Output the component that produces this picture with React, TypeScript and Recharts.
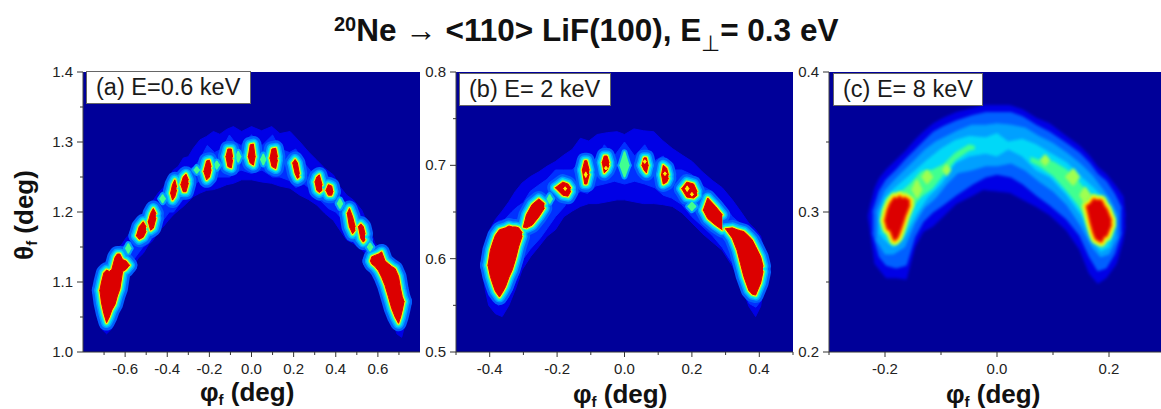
import { ComposedChart, Area, XAxis, YAxis, CartesianGrid } from 'recharts'

type Row = [number, number | null, number | null]

const FONT = "'Liberation Sans', Arial, sans-serif"

// colour scale of the intensity map, low to high
const PLOT_BG = '#000099'
const C_BLUE = '#0000e6'
const C_DEEP = '#0030ff'
const C_AZURE = '#0060ff'
const C_SKY = '#00a0ff'
const C_CYAN = '#00d8f8'
const C_GREEN = '#40ff90'
const C_LIME = '#a0ff50'
const C_YELLOW = '#ffee00'
const C_ORANGE = '#ff7a00'
const C_RED = '#dc0000'

// ---- panel (a) : [phi, theta low, theta high]
const aOuter: Row[] = [
  [-0.743, 1.074, 1.093], [-0.728, 1.045, 1.112], [-0.712, 1.033, 1.119], [-0.688, 1.026, 1.131], [-0.664, 1.033, 1.141],
  [-0.641, 1.05, 1.148], [-0.617, 1.083, 1.153], [-0.593, 1.105, 1.164], [-0.561, 1.122, 1.174], [-0.538, 1.134, 1.186],
  [-0.514, 1.141, 1.198], [-0.49, 1.153, 1.21], [-0.466, 1.16, 1.217], [-0.443, 1.174, 1.227], [-0.419, 1.179, 1.235],
  [-0.395, 1.188, 1.246], [-0.371, 1.196, 1.26], [-0.348, 1.202, 1.265], [-0.324, 1.208, 1.277], [-0.3, 1.215, 1.279],
  [-0.276, 1.222, 1.291], [-0.245, 1.227, 1.303], [-0.213, 1.231, 1.308], [-0.181, 1.232, 1.315], [-0.15, 1.235, 1.311],
  [-0.118, 1.239, 1.318], [-0.086, 1.241, 1.322], [-0.047, 1.246, 1.315], [0, 1.246, 1.322], [0.048, 1.243, 1.316],
  [0.096, 1.241, 1.322], [0.135, 1.237, 1.312], [0.183, 1.234, 1.315], [0.23, 1.224, 1.3], [0.27, 1.218, 1.286],
  [0.31, 1.21, 1.274], [0.349, 1.198, 1.262], [0.389, 1.188, 1.253], [0.42, 1.174, 1.236], [0.452, 1.16, 1.224],
  [0.484, 1.155, 1.217], [0.523, 1.146, 1.203], [0.555, 1.136, 1.181], [0.587, 1.117, 1.155], [0.61, 1.098, 1.148],
  [0.642, 1.079, 1.138], [0.666, 1.05, 1.129], [0.69, 1.026, 1.124], [0.713, 1.021, 1.105], [0.734, 1.045, 1.093],
  [0.747, 1.06, 1.081],
]
const aInner: Row[] = [
  [-0.733, 1.07, 1.085], [-0.72, 1.05, 1.108], [-0.7, 1.035, 1.12], [-0.68, 1.032, 1.125], [-0.66, 1.042, 1.135],
  [-0.64, 1.06, 1.143], [-0.615, 1.09, 1.15], [-0.59, 1.115, 1.155], [-0.565, 1.13, 1.16], [-0.54, 1.14, 1.18],
  [-0.515, 1.15, 1.19], [-0.49, 1.155, 1.2], [-0.465, 1.165, 1.21], [-0.44, 1.18, 1.205], [-0.415, 1.19, 1.215],
  [-0.39, 1.2, 1.235], [-0.37, 1.2, 1.25], [-0.345, 1.21, 1.25], [-0.32, 1.22, 1.265], [-0.3, 1.225, 1.26],
  [-0.27, 1.24, 1.265], [-0.245, 1.245, 1.275], [-0.21, 1.24, 1.295], [-0.175, 1.25, 1.285], [-0.14, 1.25, 1.29],
  [-0.105, 1.25, 1.31], [-0.08, 1.255, 1.3], [-0.05, 1.26, 1.295], [0, 1.255, 1.31], [0.05, 1.26, 1.295],
  [0.1, 1.25, 1.31], [0.135, 1.25, 1.29], [0.18, 1.245, 1.285], [0.21, 1.235, 1.29], [0.25, 1.24, 1.27],
  [0.29, 1.23, 1.255], [0.315, 1.22, 1.26], [0.365, 1.205, 1.25], [0.4, 1.2, 1.225], [0.43, 1.19, 1.21],
  [0.47, 1.16, 1.205], [0.52, 1.15, 1.19], [0.56, 1.14, 1.16], [0.59, 1.125, 1.145], [0.62, 1.1, 1.145],
  [0.65, 1.08, 1.13], [0.68, 1.035, 1.12], [0.7, 1.03, 1.11], [0.72, 1.04, 1.09], [0.735, 1.055, 1.08],
]
const aMinor: Row[] = [
  [-0.595, 1.148, 1.148], [-0.585, 1.142, 1.154], [-0.575, 1.148, 1.148], [-0.57, null, null],
  [-0.432, 1.219, 1.219], [-0.422, 1.214, 1.224], [-0.412, 1.219, 1.219], [-0.4, null, null],
  [-0.27, 1.26, 1.26], [-0.26, 1.256, 1.264], [-0.25, 1.26, 1.26], [-0.24, null, null],
  [-0.175, 1.267, 1.267], [-0.165, 1.262, 1.272], [-0.155, 1.267, 1.267], [-0.14, null, null],
  [-0.073, 1.279, 1.279], [-0.063, 1.272, 1.286], [-0.053, 1.279, 1.279], [-0.04, null, null],
  [0.046, 1.275, 1.275], [0.056, 1.268, 1.282], [0.066, 1.275, 1.275], [0.08, null, null],
  [0.41, 1.212, 1.212], [0.42, 1.206, 1.218], [0.43, 1.212, 1.212], [0.44, null, null],
  [0.553, 1.15, 1.15], [0.563, 1.145, 1.155], [0.573, 1.15, 1.15],
]
const aPeaks: Row[] = [
  [-0.72, 1.088, 1.088], [-0.712, 1.07, 1.1], [-0.701, 1.055, 1.113], [-0.688, 1.042, 1.117], [-0.675, 1.05, 1.115],
  [-0.663, 1.06, 1.118], [-0.648, 1.068, 1.135], [-0.637, 1.08, 1.14], [-0.625, 1.09, 1.14], [-0.612, 1.115, 1.132],
  [-0.596, 1.118, 1.13], [-0.58, 1.124, 1.124], [-0.56, null, null],
  [-0.546, 1.166, 1.166], [-0.533, 1.161, 1.179], [-0.514, 1.164, 1.186], [-0.501, 1.172, 1.179], [-0.495, null, null],
  [-0.49, 1.186, 1.186], [-0.479, 1.174, 1.198], [-0.466, 1.177, 1.205], [-0.454, 1.191, 1.198], [-0.44, null, null],
  [-0.384, 1.227, 1.227], [-0.375, 1.217, 1.239], [-0.364, 1.222, 1.246], [-0.356, 1.231, 1.236], [-0.345, null, null],
  [-0.335, 1.239, 1.239], [-0.324, 1.229, 1.25], [-0.311, 1.229, 1.254], [-0.3, 1.241, 1.246], [-0.28, null, null],
  [-0.226, 1.258, 1.258], [-0.213, 1.246, 1.273], [-0.2, 1.25, 1.274], [-0.192, 1.26, 1.265], [-0.15, null, null],
  [-0.121, 1.279, 1.279], [-0.112, 1.265, 1.29], [-0.096, 1.263, 1.29], [-0.09, 1.274, 1.279], [-0.05, null, null],
  [-0.015, 1.279, 1.279], [-0.006, 1.27, 1.296], [0.009, 1.267, 1.297], [0.017, 1.279, 1.279], [0.05, null, null],
  [0.088, 1.277, 1.277], [0.097, 1.265, 1.29], [0.115, 1.262, 1.291], [0.123, 1.274, 1.279], [0.16, null, null],
  [0.196, 1.27, 1.27], [0.207, 1.255, 1.275], [0.218, 1.248, 1.27], [0.227, 1.25, 1.255], [0.27, null, null],
  [0.302, 1.243, 1.243], [0.31, 1.231, 1.25], [0.322, 1.228, 1.253], [0.335, 1.231, 1.239], [0.345, null, null],
  [0.354, 1.231, 1.231], [0.365, 1.224, 1.239], [0.381, 1.224, 1.237], [0.386, 1.229, 1.229], [0.42, null, null],
  [0.455, 1.198, 1.198], [0.465, 1.179, 1.205], [0.48, 1.169, 1.193], [0.492, 1.174, 1.179], [0.5, null, null],
  [0.508, 1.179, 1.179], [0.519, 1.162, 1.183], [0.531, 1.157, 1.179], [0.539, 1.16, 1.169], [0.555, null, null],
  [0.565, 1.13, 1.13], [0.571, 1.126, 1.136], [0.587, 1.122, 1.138], [0.603, 1.116, 1.14], [0.618, 1.107, 1.143],
  [0.634, 1.095, 1.13], [0.65, 1.079, 1.126], [0.666, 1.062, 1.122], [0.682, 1.05, 1.119], [0.698, 1.041, 1.108],
  [0.708, 1.05, 1.09], [0.716, 1.06, 1.079], [0.724, 1.072, 1.072],
]

// ---- panel (b)
const bOuter: Row[] = [
  [-0.423, 0.589, 0.602], [-0.413, 0.566, 0.615], [-0.403, 0.55, 0.629], [-0.383, 0.541, 0.642], [-0.363, 0.538, 0.651],
  [-0.343, 0.55, 0.661], [-0.324, 0.567, 0.672], [-0.304, 0.588, 0.681], [-0.279, 0.602, 0.688], [-0.254, 0.613, 0.693],
  [-0.23, 0.624, 0.699], [-0.205, 0.631, 0.704], [-0.18, 0.645, 0.711], [-0.155, 0.651, 0.717], [-0.131, 0.656, 0.729],
  [-0.106, 0.659, 0.726], [-0.081, 0.659, 0.733], [-0.051, 0.661, 0.735], [-0.022, 0.663, 0.736], [0, 0.663, 0.733],
  [0.028, 0.661, 0.739], [0.057, 0.659, 0.737], [0.087, 0.659, 0.736], [0.112, 0.658, 0.727], [0.142, 0.656, 0.718],
  [0.171, 0.649, 0.711], [0.201, 0.638, 0.704], [0.231, 0.627, 0.693], [0.26, 0.618, 0.684], [0.29, 0.609, 0.676],
  [0.32, 0.592, 0.663], [0.344, 0.574, 0.651], [0.369, 0.549, 0.638], [0.389, 0.538, 0.631], [0.404, 0.549, 0.624],
  [0.416, 0.577, 0.606], [0.424, 0.592, 0.599],
]
const bInner: Row[] = [
  [-0.408, 0.585, 0.61], [-0.395, 0.56, 0.63], [-0.375, 0.55, 0.64], [-0.355, 0.553, 0.642], [-0.335, 0.565, 0.65],
  [-0.32, 0.578, 0.655], [-0.3, 0.6, 0.66], [-0.28, 0.61, 0.672], [-0.25, 0.622, 0.68], [-0.23, 0.632, 0.685],
  [-0.205, 0.645, 0.695], [-0.18, 0.655, 0.695], [-0.155, 0.668, 0.695], [-0.13, 0.672, 0.705], [-0.11, 0.67, 0.71],
  [-0.085, 0.678, 0.705], [-0.06, 0.68, 0.722], [-0.03, 0.683, 0.71], [0, 0.68, 0.725], [0.03, 0.683, 0.71],
  [0.06, 0.68, 0.722], [0.09, 0.676, 0.705], [0.115, 0.668, 0.71], [0.14, 0.665, 0.695], [0.17, 0.658, 0.695],
  [0.2, 0.645, 0.69], [0.23, 0.635, 0.678], [0.26, 0.625, 0.672], [0.29, 0.612, 0.66], [0.32, 0.595, 0.645],
  [0.345, 0.575, 0.637], [0.37, 0.552, 0.625], [0.39, 0.548, 0.615], [0.405, 0.555, 0.605], [0.415, 0.58, 0.59],
]
const bMinor: Row[] = [
  [-0.228, 0.664, 0.664], [-0.222, 0.66, 0.668], [-0.216, 0.664, 0.664], [-0.19, null, null],
  [-0.012, 0.7, 0.7], [0, 0.688, 0.714], [0.012, 0.7, 0.7], [0.03, null, null],
  [0.19, 0.656, 0.656], [0.2, 0.652, 0.66], [0.21, 0.656, 0.656],
]
const bPeaks: Row[] = [
  [-0.405, 0.593, 0.593], [-0.398, 0.581, 0.609], [-0.39, 0.572, 0.618], [-0.383, 0.565, 0.625], [-0.371, 0.559, 0.631],
  [-0.362, 0.564, 0.632], [-0.353, 0.57, 0.633], [-0.343, 0.58, 0.635], [-0.333, 0.588, 0.634], [-0.323, 0.6, 0.634],
  [-0.314, 0.613, 0.633], [-0.304, 0.624, 0.628], [-0.302, null, null],
  [-0.3, 0.634, 0.634], [-0.291, 0.633, 0.647], [-0.274, 0.636, 0.658], [-0.254, 0.645, 0.664], [-0.238, 0.654, 0.659], [-0.21, null, null],
  [-0.205, 0.676, 0.676], [-0.183, 0.668, 0.682], [-0.168, 0.667, 0.68], [-0.16, 0.672, 0.676], [-0.14, null, null],
  [-0.125, 0.695, 0.695], [-0.118, 0.68, 0.705], [-0.112, 0.68, 0.705], [-0.105, 0.69, 0.695], [-0.09, null, null],
  [-0.066, 0.703, 0.703], [-0.06, 0.692, 0.71], [-0.052, 0.695, 0.71], [-0.046, 0.7, 0.703], [0, null, null],
  [0.052, 0.7, 0.7], [0.058, 0.695, 0.708], [0.065, 0.692, 0.708], [0.07, 0.7, 0.7], [0.09, null, null],
  [0.11, 0.69, 0.69], [0.115, 0.68, 0.7], [0.125, 0.682, 0.697], [0.13, 0.686, 0.69], [0.15, null, null],
  [0.17, 0.675, 0.675], [0.185, 0.666, 0.682], [0.205, 0.665, 0.68], [0.215, 0.668, 0.672], [0.225, null, null],
  [0.234, 0.652, 0.652], [0.247, 0.643, 0.665], [0.27, 0.636, 0.656], [0.29, 0.631, 0.647], [0.298, null, null],
  [0.3, 0.632, 0.632], [0.32, 0.622, 0.633], [0.334, 0.609, 0.631], [0.344, 0.595, 0.63], [0.354, 0.581, 0.629],
  [0.369, 0.566, 0.624], [0.379, 0.562, 0.62], [0.389, 0.561, 0.613], [0.404, 0.574, 0.602], [0.411, 0.586, 0.592],
]
// lighter specks inside the grainy peaks
const bSpecks: Row[] = [
  [-0.18, 0.675, 0.675], [-0.176, 0.673, 0.677], [-0.172, 0.675, 0.675], [-0.125, null, null],
  [-0.119, 0.69, 0.69], [-0.115, 0.687, 0.693], [-0.111, 0.69, 0.69], [-0.06, null, null],
  [-0.059, 0.697, 0.697], [-0.055, 0.695, 0.699], [-0.051, 0.697, 0.697], [0.055, null, null],
  [0.056, 0.704, 0.704], [0.06, 0.702, 0.706], [0.064, 0.704, 0.704], [0.115, null, null],
  [0.116, 0.691, 0.691], [0.12, 0.689, 0.693], [0.124, 0.691, 0.691], [0.18, null, null],
  [0.181, 0.675, 0.675], [0.186, 0.672, 0.678], [0.191, 0.675, 0.675], [0.195, null, null],
  [0.196, 0.669, 0.669], [0.2, 0.667, 0.671], [0.204, 0.669, 0.669],
]

// ---- panel (c)
const cOuter: Row[] = [
  [-0.23, 0.297, 0.297], [-0.227, 0.289, 0.303], [-0.218, 0.263, 0.317], [-0.21, 0.259, 0.324], [-0.198, 0.253, 0.33],
  [-0.18, 0.253, 0.337], [-0.162, 0.252, 0.344], [-0.147, 0.275, 0.351], [-0.132, 0.286, 0.357], [-0.114, 0.29, 0.363],
  [-0.096, 0.297, 0.367], [-0.073, 0.306, 0.371], [-0.043, 0.312, 0.374], [-0.025, 0.316, 0.376], [0, 0.315, 0.376],
  [0.023, 0.314, 0.376], [0.046, 0.309, 0.373], [0.07, 0.304, 0.367], [0.094, 0.298, 0.363], [0.124, 0.287, 0.354],
  [0.148, 0.273, 0.347], [0.165, 0.256, 0.34], [0.18, 0.249, 0.332], [0.195, 0.253, 0.327], [0.213, 0.263, 0.318],
  [0.225, 0.28, 0.311], [0.229, 0.29, 0.297],
]
const cAzure: Row[] = [
  [-0.222, 0.285, 0.3], [-0.21, 0.268, 0.315], [-0.198, 0.262, 0.323], [-0.18, 0.26, 0.33], [-0.162, 0.262, 0.338],
  [-0.147, 0.282, 0.344], [-0.132, 0.293, 0.35], [-0.114, 0.3, 0.357], [-0.096, 0.305, 0.361], [-0.073, 0.312, 0.365],
  [-0.043, 0.32, 0.369], [-0.02, 0.325, 0.371], [0, 0.327, 0.371], [0.025, 0.325, 0.371], [0.046, 0.32, 0.368],
  [0.07, 0.312, 0.362], [0.094, 0.305, 0.357], [0.124, 0.295, 0.349], [0.148, 0.283, 0.342], [0.165, 0.268, 0.335],
  [0.18, 0.258, 0.327], [0.195, 0.26, 0.322], [0.21, 0.27, 0.313], [0.222, 0.285, 0.303],
]
const cSky: Row[] = [
  [-0.215, 0.28, 0.3], [-0.2, 0.27, 0.315], [-0.185, 0.27, 0.322], [-0.165, 0.275, 0.33], [-0.147, 0.292, 0.337],
  [-0.13, 0.303, 0.344], [-0.11, 0.31, 0.35], [-0.09, 0.32, 0.354], [-0.07, 0.328, 0.358], [-0.045, 0.33, 0.362],
  [-0.02, 0.333, 0.362], [0, 0.333, 0.363], [0.025, 0.335, 0.362], [0.05, 0.33, 0.36], [0.075, 0.322, 0.354],
  [0.1, 0.315, 0.349], [0.125, 0.305, 0.342], [0.15, 0.29, 0.334], [0.17, 0.275, 0.326], [0.185, 0.268, 0.318],
  [0.2, 0.27, 0.31], [0.215, 0.282, 0.298],
]
const cCyan: Row[] = [
  [-0.21, 0.285, 0.298], [-0.2, 0.28, 0.31], [-0.185, 0.275, 0.316], [-0.165, 0.283, 0.323], [-0.145, 0.298, 0.33],
  [-0.125, 0.31, 0.337], [-0.1, 0.32, 0.345], [-0.075, 0.335, 0.351], [-0.05, 0.34, 0.354], [-0.02, 0.342, 0.353],
  [0, 0.34, 0.356], [0.02, 0.345, 0.35], [0.045, 0.34, 0.352], [0.07, 0.33, 0.348], [0.095, 0.325, 0.342],
  [0.125, 0.312, 0.335], [0.15, 0.298, 0.325], [0.17, 0.282, 0.318], [0.185, 0.272, 0.312], [0.2, 0.275, 0.303],
  [0.208, 0.285, 0.295],
]
const cGreen: Row[] = [
  [-0.205, 0.29, 0.3], [-0.195, 0.283, 0.31], [-0.175, 0.283, 0.313], [-0.155, 0.302, 0.32], [-0.135, 0.311, 0.329],
  [-0.115, 0.317, 0.33], [-0.095, 0.327, 0.334], [-0.075, 0.337, 0.342], [-0.05, 0.344, 0.348], [-0.04, 0.345, 0.347],
  [0, null, null],
  [0.06, 0.336, 0.339], [0.075, 0.333, 0.337], [0.1, 0.326, 0.336], [0.125, 0.315, 0.33], [0.145, 0.305, 0.322],
  [0.165, 0.292, 0.312], [0.185, 0.278, 0.31], [0.2, 0.28, 0.303], [0.205, 0.288, 0.295],
]
const cMinor: Row[] = [
  [-0.15, 0.316, 0.316], [-0.143, 0.311, 0.322], [-0.136, 0.316, 0.316], [-0.13, null, null],
  [-0.132, 0.325, 0.325], [-0.125, 0.321, 0.329], [-0.117, 0.325, 0.325], [-0.1, null, null],
  [-0.095, 0.33, 0.33], [-0.09, 0.327, 0.333], [-0.085, 0.33, 0.33], [0.07, null, null],
  [0.08, 0.337, 0.337], [0.086, 0.334, 0.34], [0.092, 0.337, 0.337], [0.115, null, null],
  [0.125, 0.325, 0.325], [0.136, 0.32, 0.33], [0.145, 0.325, 0.325], [0.15, null, null],
  [0.15, 0.312, 0.312], [0.157, 0.307, 0.317], [0.165, 0.312, 0.312],
]
const cPeaks: Row[] = [
  [-0.199, 0.294, 0.294], [-0.195, 0.288, 0.301], [-0.19, 0.287, 0.306], [-0.183, 0.28, 0.31], [-0.178, 0.282, 0.309],
  [-0.174, 0.286, 0.311], [-0.169, 0.292, 0.309], [-0.165, 0.297, 0.31], [-0.157, 0.305, 0.308], [0, null, null],
  [0.161, 0.304, 0.304], [0.168, 0.292, 0.306], [0.173, 0.285, 0.309], [0.177, 0.281, 0.308], [0.186, 0.279, 0.308],
  [0.191, 0.283, 0.304], [0.195, 0.283, 0.302], [0.2, 0.288, 0.297], [0.203, 0.291, 0.294],
]

// axis ticks
const aXMajor = [-0.6, -0.4, -0.2, 0, 0.2, 0.4, 0.6]
const aXMinor = [-0.7, -0.5, -0.3, -0.1, 0.1, 0.3, 0.5, 0.7]
const aYMajor = [1.0, 1.1, 1.2, 1.3, 1.4]
const aYMinor = [1.05, 1.15, 1.25, 1.35]
const bXMajor = [-0.4, -0.2, 0, 0.2, 0.4]
const bXMinor = [-0.5, -0.3, -0.1, 0.1, 0.3, 0.5]
const bYMajor = [0.5, 0.6, 0.7, 0.8]
const bYMinor = [0.55, 0.65, 0.75]
const cXMajor = [-0.2, 0, 0.2]
const cXMinor = [-0.3, -0.1, 0.1, 0.3]
const cYMajor = [0.2, 0.3, 0.4]
const cYMinor = [0.25, 0.35]

const toData = (rows: Row[]) =>
  rows.map(([phi, lo, hi]) => ({ phi, band: lo == null ? null : [lo, hi] }))

function XTick({ x, y, payload, major }: any) {
  const isMajor = major.includes(payload.value)
  return (
    <g>
      <line x1={x} x2={x} y1={y} y2={y + (isMajor ? 5 : 3)} stroke="#333" />
      {isMajor && (
        <text x={x} y={y + 22} textAnchor="middle" fontFamily={FONT} fontSize={15} fill="#222">
          {payload.value.toFixed(1)}
        </text>
      )}
    </g>
  )
}

function YTick({ x, y, payload, major }: any) {
  const isMajor = major.includes(payload.value)
  return (
    <g>
      <line x1={x} x2={x - (isMajor ? 6 : 3)} y1={y} y2={y} stroke="#333" />
      {isMajor && (
        <text x={x - 10} y={y + 5} textAnchor="end" fontFamily={FONT} fontSize={15} fill="#222">
          {payload.value.toFixed(1)}
        </text>
      )}
    </g>
  )
}

// same outline stroked wide gives the contour ring round a peak
const band = (id: string, rows: Row[], color: string, width = 1) => (
  <Area
    key={id}
    data={toData(rows)}
    dataKey="band"
    type="linear"
    stroke={color}
    strokeWidth={width}
    strokeLinejoin="round"
    strokeLinecap="round"
    fill={color}
    fillOpacity={1}
    dot={false}
    activeDot={false}
    isAnimationActive={false}
  />
)

function Panel({ left, width, yWidth, xDomain, yDomain, xMajor, xMinor, yMajor, yMinor, soft, children }: any) {
  return (
    <div className={soft ? 'soft' : 'crisp'} style={{ position: 'absolute', left, top: 0 }}>
      <ComposedChart width={width} height={409} margin={{ top: 72, right: 1, bottom: 0, left: 0 }}>
        <CartesianGrid horizontal={false} vertical={false} fill={PLOT_BG} />
        <XAxis
          dataKey="phi"
          type="number"
          domain={xDomain}
          ticks={[...xMajor, ...xMinor].sort((p, q) => p - q)}
          interval={0}
          height={57}
          tickSize={0}
          tickMargin={0}
          tickLine={false}
          axisLine={{ stroke: '#333' }}
          tick={<XTick major={xMajor} />}
          allowDataOverflow
        />
        <XAxis xAxisId="top" orientation="top" type="number" domain={xDomain} height={0} tick={false} tickLine={false} axisLine={{ stroke: '#222' }} />
        <YAxis
          type="number"
          domain={yDomain}
          ticks={[...yMajor, ...yMinor].sort((p, q) => p - q)}
          interval={0}
          width={yWidth}
          tickSize={0}
          tickMargin={0}
          tickLine={false}
          axisLine={{ stroke: '#444' }}
          tick={<YTick major={yMajor} />}
          allowDataOverflow
        />
        <YAxis yAxisId="right" orientation="right" type="number" domain={yDomain} width={0} tick={false} tickLine={false} axisLine={{ stroke: '#222' }} />
        {children}
      </ComposedChart>
    </div>
  )
}

function Tag({ left, width, top, height, children }: any) {
  return (
    <div
      style={{
        position: 'absolute', left, top, width, height, boxSizing: 'border-box', background: '#fff',
        border: '1px solid #666', fontFamily: FONT, fontSize: 23.5, lineHeight: `${height - 2}px`,
        color: '#1a1a1a', paddingLeft: 9, whiteSpace: 'nowrap',
      }}
    >
      {children}
    </div>
  )
}

const nameStyle: any = { position: 'absolute', fontFamily: FONT, fontWeight: 700, fontSize: 26, color: '#111', whiteSpace: 'nowrap', lineHeight: '26px' }
const subStyle: any = { fontSize: 15, position: 'relative', top: 4, lineHeight: '10px' }

export default function App() {
  return (
    <div style={{ position: 'relative', width: 1161, height: 409, overflow: 'hidden', background: '#fff' }}>
      <style>{'body{margin:0;overflow:hidden} .crisp .recharts-area{filter:blur(0.7px)} .soft .recharts-area{filter:blur(1.5px)}'}</style>

      <div style={{ position: 'absolute', left: 334, top: 11, fontFamily: FONT, fontWeight: 700, fontSize: 31.5, color: '#111', whiteSpace: 'nowrap', lineHeight: '38px' }}>
        <span style={{ fontSize: 20, position: 'relative', top: -10 }}>20</span>Ne <span style={{ fontWeight: 400 }}>→</span> &lt;110&gt; LiF(100), E
        <span style={{ fontSize: 22, fontWeight: 400, position: 'relative', top: 10 }}>⊥</span>= 0.3 eV
      </div>

      <Panel left={0} width={421} yWidth={83} xDomain={[-0.8, 0.8]} yDomain={[1.0, 1.4]} xMajor={aXMajor} xMinor={aXMinor} yMajor={aYMajor} yMinor={aYMinor}>
        {band('o', aOuter, C_BLUE)}
        {band('i', aInner, C_DEEP)}
        {band('pa', aPeaks, C_AZURE, 16)}
        {band('ps', aPeaks, C_SKY, 11)}
        {band('mc', aMinor, C_SKY, 6)}
        {band('mg', aMinor, C_GREEN, 2)}
        {band('c', aPeaks, C_CYAN, 8)}
        {band('g', aPeaks, C_GREEN, 5)}
        {band('y', aPeaks, C_YELLOW, 3)}
        {band('r', aPeaks, C_RED, 1)}
      </Panel>
      <Panel left={420} width={374} yWidth={36} xDomain={[-0.5, 0.5]} yDomain={[0.5, 0.8]} xMajor={bXMajor} xMinor={bXMinor} yMajor={bYMajor} yMinor={bYMinor}>
        {band('o', bOuter, C_BLUE)}
        {band('i', bInner, C_DEEP)}
        {band('pa', bPeaks, C_AZURE, 16)}
        {band('ps', bPeaks, C_SKY, 11)}
        {band('mc', bMinor, C_SKY, 6)}
        {band('mg', bMinor, C_GREEN, 2)}
        {band('c', bPeaks, C_CYAN, 8)}
        {band('g', bPeaks, C_GREEN, 5)}
        {band('y', bPeaks, C_YELLOW, 3)}
        {band('r', bPeaks, C_RED, 1)}
        {band('sp', bSpecks, C_YELLOW, 1)}
      </Panel>
      <Panel soft left={793} width={373} yWidth={36} xDomain={[-0.3, 0.3]} yDomain={[0.2, 0.4]} xMajor={cXMajor} xMinor={cXMinor} yMajor={cYMajor} yMinor={cYMinor}>
        {band('o', cOuter, C_BLUE)}
        {band('a', cAzure, C_AZURE)}
        {band('s', cSky, C_SKY)}
        {band('c', cCyan, C_CYAN)}
        {band('g', cGreen, C_GREEN)}
        {band('l', cMinor, C_LIME, 3)}
        {band('ly', cPeaks, C_LIME, 11)}
        {band('y', cPeaks, C_YELLOW, 7)}
        {band('o2', cPeaks, C_ORANGE, 3)}
        {band('r', cPeaks, C_RED, 1)}
      </Panel>

      <Tag left={86} top={71} width={165} height={33}>(a) E=0.6 keV</Tag>
      <Tag left={459} top={73} width={152} height={33}>(b) E= 2 keV</Tag>
      <Tag left={833} top={73} width={150} height={33}>(c) E= 8 keV</Tag>

      <div style={{ ...nameStyle, left: 200, top: 379 }}>φ<span style={subStyle}>f</span> (deg)</div>
      <div style={{ ...nameStyle, left: 573, top: 381 }}>φ<span style={subStyle}>f</span> (deg)</div>
      <div style={{ ...nameStyle, left: 946, top: 381 }}>φ<span style={subStyle}>f</span> (deg)</div>
      <div style={{ ...nameStyle, left: 24, top: 215, transform: 'translate(-50%,-50%) rotate(-90deg)' }}>θ<span style={subStyle}>f</span> (deg)</div>
    </div>
  )
}
